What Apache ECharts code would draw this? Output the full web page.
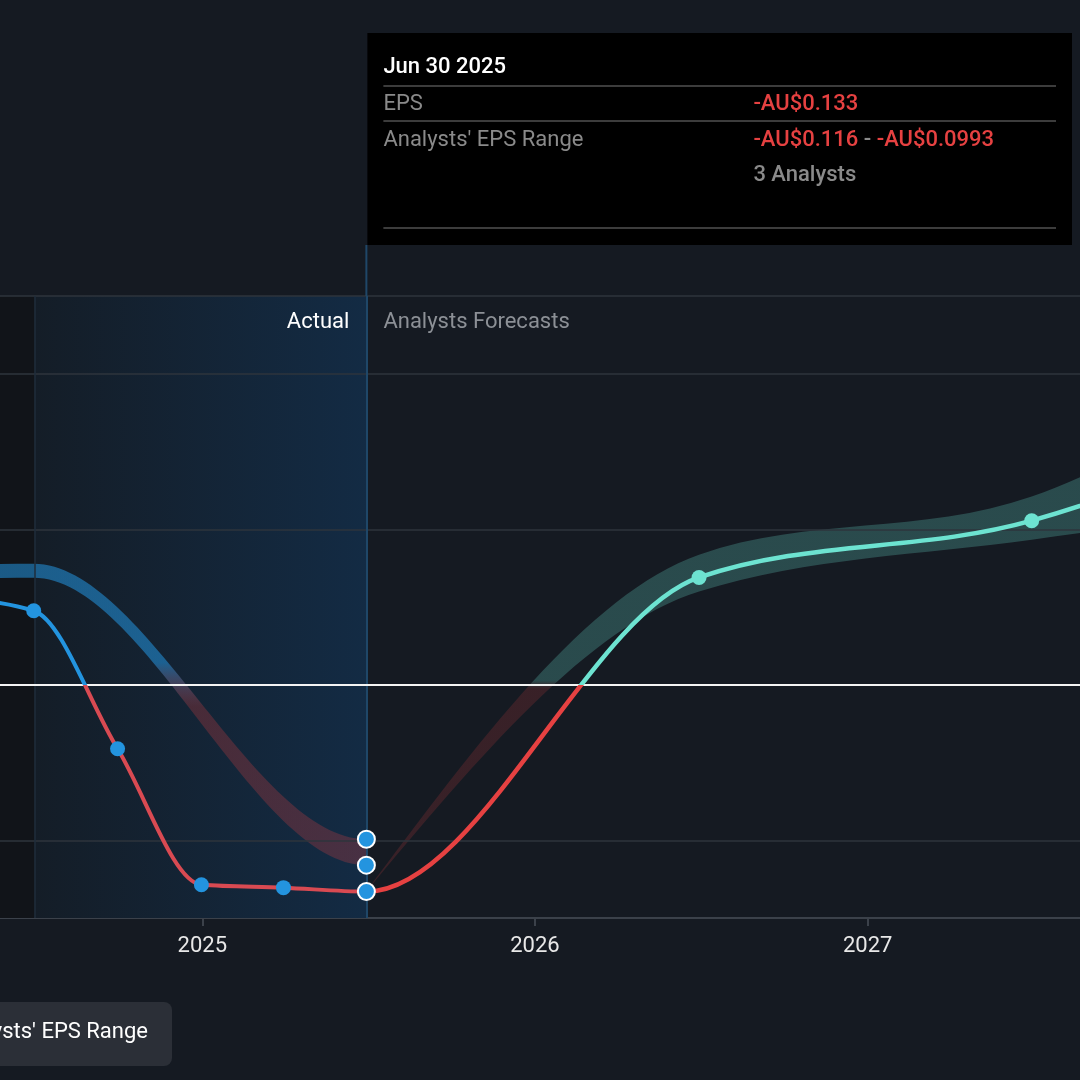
<!DOCTYPE html>
<html>
<head>
<meta charset="utf-8">
<script src="https://cdn.jsdelivr.net/npm/echarts@6/dist/echarts.min.js"></script>
<style>
html,body{margin:0;padding:0;background:#151a22;}
#c{width:1080px;height:1080px;}
</style>
</head>
<body>
<div id="c"></div>
<script>
// ---------- data ----------
const actualDates = ['2024-03-31', '2024-06-30', '2024-09-30', '2024-12-31', '2025-03-31', '2025-06-30'];
const actualEps   = [0.056, 0.0476, -0.0412, -0.1286, -0.1305, -0.133];

const pastRangeDates = ['2023-06-30', '2024-06-30', '2025-06-30'];
const pastRangeLow   = [0.055, 0.0688, -0.116];
const pastRangeHigh  = [0.064, 0.0778, -0.0993];

const forecastDates = ['2026-06-30', '2027-06-30', '2028-06-30'];
const forecastEps   = [0.069, 0.1055, 0.19];
const forecastLow   = [0.060, 0.0933, 0.12];
const forecastHigh  = [0.0836, 0.121, 0.25];

const analystsCount = 3;
const gridValues = [0.25, 0.2, 0.1, -0.1];
const axisStart = '2024-05-24';
const axisEnd = '2027-08-22';
const actualStart = '2024-07-01';
const Y_MIN = -0.15, Y_MAX = 0.25;

// ---------- helpers ----------
const FONT = 'Roboto, "Noto Sans", sans-serif';
const ts = d => { const [y, m, dd] = d.split('-').map(Number); return new Date(y, m - 1, dd).getTime(); };
const lastDate = actualDates[actualDates.length - 1];
const lastEps = actualEps[actualEps.length - 1];

function sgn(x) { return x < 0 ? -1 : 1; }
function slope3(p0, p1, p2) {
  const h0 = p1[0] - p0[0], h1 = p2[0] - p1[0];
  const s0 = (p1[1] - p0[1]) / h0, s1 = (p2[1] - p1[1]) / h1;
  const p = (s0 * h1 + s1 * h0) / (h0 + h1);
  return (sgn(s0) + sgn(s1)) * Math.min(Math.abs(s0), Math.abs(s1), 0.5 * Math.abs(p)) || 0;
}
function slope2(p0, p1, t) { const h = p1[0] - p0[0]; return h ? (3 * (p1[1] - p0[1]) / h - t) / 2 : t; }
function tangents(px) {
  const n = px.length, t = new Array(n).fill(0);
  if (n === 2) { const s = (px[1][1] - px[0][1]) / (px[1][0] - px[0][0]); t[0] = t[1] = s; return t; }
  for (let i = 1; i < n - 1; i++) t[i] = slope3(px[i - 1], px[i], px[i + 1]);
  t[0] = slope2(px[0], px[1], t[1]);
  t[n - 1] = slope2(px[n - 2], px[n - 1], t[n - 2]);
  return t;
}
function fwd(px, t, i0, i1) {
  let s = '';
  for (let i = i0; i < i1; i++) {
    const a = px[i], b = px[i + 1], dx = (b[0] - a[0]) / 3;
    s += ` C${a[0] + dx},${a[1] + dx * t[i]} ${b[0] - dx},${b[1] - dx * t[i + 1]} ${b[0]},${b[1]}`;
  }
  return s;
}
function bwd(px, t, i1, i0) {
  let s = '';
  for (let i = i1; i > i0; i--) {
    const b = px[i], a = px[i - 1], dx = (b[0] - a[0]) / 3;
    s += ` C${b[0] - dx},${b[1] - dx * t[i]} ${a[0] + dx},${a[1] + dx * t[i - 1]} ${a[0]},${a[1]}`;
  }
  return s;
}
function splitFill(api, xRef, pos, neg, blend) {
  const yT = api.coord([xRef, Y_MAX])[1], yB = api.coord([xRef, Y_MIN])[1], y0 = api.coord([xRef, 0])[1];
  const H = yB - yT, f = (y0 - yT) / H, b = blend / H;
  return new echarts.graphic.LinearGradient(0, yT, 0, yB, [
    { offset: 0, color: pos }, { offset: Math.max(0, f - b), color: pos },
    { offset: Math.min(1, f + b), color: neg }, { offset: 1, color: neg }
  ], true);
}

function lineSeries(name, dates, values, i0, i1, pos, neg, width) {
  return {
    type: 'custom', name, z: 5, silent: true, clip: true,
    data: [[ts(dates[i1]), values[i1]]],
    renderItem(params, api) {
      const px = dates.map((d, i) => api.coord([ts(d), values[i]]));
      const t = tangents(px);
      const path = `M${px[i0][0]},${px[i0][1]}` + fwd(px, t, i0, i1);
      return { type: 'path', shape: { pathData: path },
        style: { fill: 'none', stroke: splitFill(api, ts(dates[i1]), pos, neg, 0), lineWidth: width, lineCap: 'round', lineJoin: 'round' } };
    }
  };
}
function bandSeries(name, dates, low, high, i0, i1, pos, neg, blend) {
  return {
    type: 'custom', name, z: 3, silent: true, clip: true,
    data: [[ts(dates[i1]), high[i1]]],
    renderItem(params, api) {
      const up = dates.map((d, i) => api.coord([ts(d), high[i]]));
      const lo = dates.map((d, i) => api.coord([ts(d), low[i]]));
      const tu = tangents(up), tl = tangents(lo);
      const path = `M${up[i0][0]},${up[i0][1]}` + fwd(up, tu, i0, i1) +
        ` L${lo[i1][0]},${lo[i1][1]}` + bwd(lo, tl, i1, i0) + ' Z';
      return { type: 'path', shape: { pathData: path },
        style: { fill: splitFill(api, ts(dates[i1]), pos, neg, blend), stroke: 'none' } };
    }
  };
}

// combined EPS path (actual + forecast) so the joint is smooth
const epsDates = actualDates.concat(forecastDates);
const epsValues = actualEps.concat(forecastEps);
const nA = actualDates.length;

// past band continues into first forecast range for its tangent at the last actual date
const pastBandDates = pastRangeDates.concat([forecastDates[0]]);
const pastBandLow = pastRangeLow.concat([forecastLow[0]]);
const pastBandHigh = pastRangeHigh.concat([forecastHigh[0]]);

const fcBandDates = [lastDate].concat(forecastDates);
const fcBandLow = [lastEps].concat(forecastLow);
const fcBandHigh = [lastEps].concat(forecastHigh);

const fmt = v => (v < 0 ? '-' : '') + 'AU$' + String(Number(Math.abs(v).toPrecision(3)));

const chart = echarts.init(document.getElementById('c'), null, { renderer: 'canvas' });

const option = {
  animation: false,
  backgroundColor: '#151a22',
  grid: { left: 0, right: 0, top: 296, bottom: 162, containLabel: false },
  xAxis: {
    type: 'time', position: 'bottom', min: ts(axisStart), max: ts(axisEnd),
    minInterval: 365 * 24 * 3600 * 1000,
    axisLine: { onZero: false, lineStyle: { color: '#3b414a', width: 2 } },
    axisTick: { show: true, inside: true, length: -8, lineStyle: { color: '#3b414a', width: 2 } },
    axisLabel: {
      color: '#e8e8e8', fontSize: 22, fontFamily: FONT, margin: 17,
      formatter: v => { const d = new Date(v); return (d.getMonth() === 0 && d.getDate() === 1) ? String(d.getFullYear()) : ''; }
    },
    splitLine: { show: false }
  },
  yAxis: {
    type: 'value', min: Y_MIN, max: Y_MAX, show: false, splitLine: { show: false }
  },
  series: [
    {
      type: 'scatter', data: [], z: 1, silent: true,
      markArea: {
        silent: true, label: { show: false },
        data: [
          [{ xAxis: ts(axisStart), itemStyle: { color: '#111419', opacity: 1 } }, { xAxis: ts(actualStart) }],
          [{ xAxis: ts(actualStart), itemStyle: { opacity: 1, color: new echarts.graphic.LinearGradient(0, 0, 1, 0, [
              { offset: 0, color: '#141d27' }, { offset: 1, color: '#132b44' }]) } },
           { xAxis: ts(lastDate) }]
        ]
      },
      markLine: {
        silent: true, symbol: 'none', label: { show: false },
        data: gridValues.map(v => ({ yAxis: v, lineStyle: { color: '#2e343d', width: 1.5, type: 'solid' } }))
          .concat([
            { xAxis: ts(actualStart), lineStyle: { color: '#1f2d3b', width: 1.5, type: 'solid' } },
            { xAxis: ts(lastDate), lineStyle: { color: '#1f4768', width: 2, type: 'solid' } }
          ])
      }
    },
    bandSeries('Analysts\' EPS Range (past)', pastBandDates, pastBandLow, pastBandHigh, 0, pastRangeDates.length - 1,
      'rgba(35,148,223,0.55)', 'rgba(230,65,65,0.25)', 22),
    bandSeries('Analysts\' EPS Range', fcBandDates, fcBandLow, fcBandHigh, 0, fcBandDates.length - 1,
      'rgba(108,229,212,0.24)', 'rgba(230,65,65,0.17)', 4),
    {
      type: 'scatter', data: [], z: 4, silent: true,
      markLine: { silent: true, symbol: 'none', label: { show: false },
        data: [{ yAxis: 0, lineStyle: { color: '#f4f4f4', width: 1.8, type: 'solid' } }] }
    },
    lineSeries('EPS', epsDates, epsValues, 0, nA - 1, '#2394df', '#d94a52', 4),
    lineSeries('EPS Forecast', epsDates, epsValues, nA - 1, epsDates.length - 1, '#6de3d1', '#e64141', 4.5),
    {
      type: 'scatter', z: 6, silent: true, symbolSize: 15,
      itemStyle: { color: '#2394df', opacity: 1 },
      data: actualDates.slice(0, -1).map((d, i) => [ts(d), actualEps[i]])
    },
    {
      type: 'scatter', z: 6, silent: true, symbolSize: 15,
      itemStyle: { color: '#6de3d1', opacity: 1 },
      data: forecastDates.map((d, i) => [ts(d), forecastEps[i]])
    },
    {
      type: 'scatter', z: 7, silent: true, symbolSize: 17,
      itemStyle: { color: '#2394df', borderColor: '#ffffff', borderWidth: 2, opacity: 1 },
      data: [[ts(lastDate), lastEps],
             [ts(lastDate), pastRangeLow[pastRangeLow.length - 1]],
             [ts(lastDate), pastRangeHigh[pastRangeHigh.length - 1]]]
    }
  ]
};
chart.setOption(option);

// ---------- overlay texts (tooltip, labels, legend) ----------
const [hx, gTop] = chart.convertToPixel({ gridIndex: 0 }, [ts(lastDate), Y_MAX]);
const tipTop = 33, tipBottom = 245, tipRight = 1072;
const dt = new Date(ts(lastDate));
const months = ['Jan','Feb','Mar','Apr','May','Jun','Jul','Aug','Sep','Oct','Nov','Dec'];
const tipTitle = `${months[dt.getMonth()]} ${dt.getDate()} ${dt.getFullYear()}`;
const tx = hx + 17, vx = hx + 387;
const gray = '#8a8a8a', red = '#e64141';
const txt = (text, x, y, fill, size, weight, align) => ({
  type: 'text', silent: true, z: 100,
  style: { text, x, y, fill, font: `${weight || 400} ${size}px ${FONT}`, align: align || 'left', verticalAlign: 'middle' }
});
const hline = (y) => ({ type: 'line', silent: true, z: 100, shape: { x1: tx, y1: y, x2: tipRight - 16, y2: y }, style: { stroke: '#3c3c3c', lineWidth: 2 } });

chart.setOption({
  graphic: [
    { type: 'line', silent: true, z: 100, shape: { x1: hx, y1: tipBottom, x2: hx, y2: gTop }, style: { stroke: '#1f4768', lineWidth: 2 } },
    { type: 'rect', silent: true, z: 99, shape: { x: hx + 1, y: tipTop, width: tipRight - hx - 1, height: tipBottom - tipTop }, style: { fill: '#000000' } },
    txt(tipTitle, tx, 67, '#ffffff', 22, 500),
    hline(86),
    txt('EPS', tx, 104, gray, 22, 400),
    txt(fmt(lastEps), vx, 104, red, 22, 500),
    hline(121),
    txt('Analysts\' EPS Range', tx, 140, gray, 22, 400),
    {
      type: 'text', silent: true, z: 100,
      style: {
        text: `{r|${fmt(pastRangeLow[pastRangeLow.length - 1])}}{g| - }{r|${fmt(pastRangeHigh[pastRangeHigh.length - 1])}}`,
        x: vx, y: 140, verticalAlign: 'middle', align: 'left',
        font: `500 22px ${FONT}`,
        rich: { r: { fill: red, font: `500 22px ${FONT}` }, g: { fill: gray, font: `500 22px ${FONT}` } }
      }
    },
    txt(`${analystsCount} Analysts`, vx, 175, gray, 22, 500),
    hline(228),
    txt('Actual', hx - 17, gTop + 26, '#ffffff', 22, 400, 'right'),
    txt('Analysts Forecasts', hx + 17, gTop + 26, '#8c9096', 22, 400, 'left'),
    { type: 'rect', silent: true, z: 99, shape: { x: -30, y: 1002, width: 202, height: 64, r: 8 }, style: { fill: '#2b2f37' } },
    txt('Analysts\' EPS Range', 148, 1032, '#ffffff', 22, 400, 'right')
  ]
});
</script>
</body>
</html>
